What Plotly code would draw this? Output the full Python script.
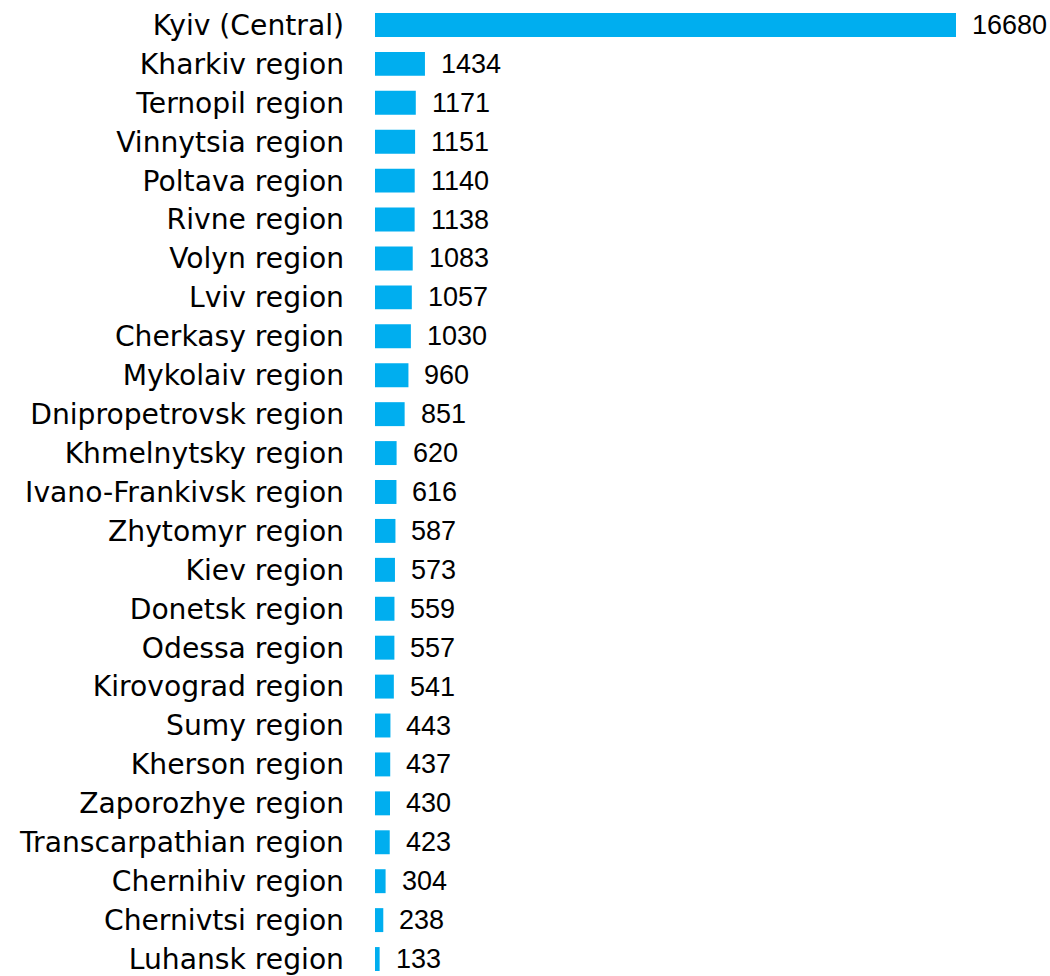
import plotly.graph_objects as go

regions = [
    "Kyiv (Central)", "Kharkiv region", "Ternopil region", "Vinnytsia region",
    "Poltava region", "Rivne region", "Volyn region", "Lviv region",
    "Cherkasy region", "Mykolaiv region", "Dnipropetrovsk region",
    "Khmelnytsky region", "Ivano-Frankivsk region", "Zhytomyr region",
    "Kiev region", "Donetsk region", "Odessa region", "Kirovograd region",
    "Sumy region", "Kherson region", "Zaporozhye region",
    "Transcarpathian region", "Chernihiv region", "Chernivtsi region",
    "Luhansk region",
]
values = [
    16680, 1434, 1171, 1151, 1140, 1138, 1083, 1057, 1030, 960, 851,
    620, 616, 587, 573, 559, 557, 541, 443, 437, 430, 423, 304, 238, 133,
]

LABEL_FONT = "DejaVu Sans"
NUM_FONT = "Liberation Sans"

fig = go.Figure(
    go.Bar(
        x=values,
        y=regions,
        orientation="h",
        marker=dict(color="#00AEEF", line=dict(width=0)),
        hoverinfo="skip",
    )
)

for r, v in zip(regions, values):
    fig.add_annotation(
        x=v, y=r, text=str(v), showarrow=False,
        xanchor="left", yanchor="middle", xshift=14,
        font=dict(family=NUM_FONT, size=27, color="#000000"),
    )

fig.update_layout(
    width=1050,
    height=976,
    margin=dict(l=375, r=0, t=0, b=0),
    paper_bgcolor="white",
    plot_bgcolor="white",
    bargap=0.385,
    showlegend=False,
    font=dict(family=LABEL_FONT, size=28.2, color="#000000"),
)
fig.update_xaxes(
    range=[0, 16680 * 675 / 581],
    visible=False,
    showgrid=False,
    zeroline=False,
)
fig.update_yaxes(
    range=[24 + 15 / 39, -25 / 39],
    showgrid=False,
    zeroline=False,
    showline=False,
    ticks="",
    ticklabelstandoff=30,
    tickfont=dict(family=LABEL_FONT, size=28.2, color="#000000"),
)

fig.write_html(
    "out.html",
    config={"displayModeBar": False, "staticPlot": True},
    post_script="document.body.style.margin='0';document.body.style.overflow='hidden';",
)
